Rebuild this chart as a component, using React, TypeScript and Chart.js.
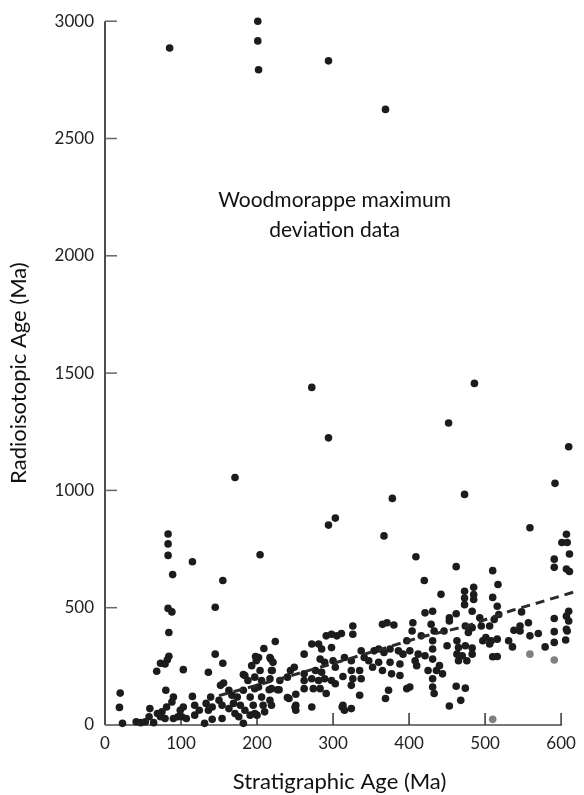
import React, { useEffect, useRef } from "react";
import { Chart, registerables } from "chart.js";

Chart.register(...registerables);

const FONT = "Lato, 'Noto Sans', sans-serif";

const xTickValues = [0, 100, 200, 300, 400, 500, 600];
const yTickValues = [0, 500, 1000, 1500, 2000, 2500, 3000];
const xTitle = "Stratigraphic Age (Ma)";
const yTitle = "Radioisotopic Age (Ma)";
const annotationLines = ["Woodmorappe maximum", "deviation data"];

// Stratigraphic age (Ma) of each sample (black points)
const stratAge = [
  85, 201, 201, 202, 294, 369,
  272, 294, 171, 83, 83, 83, 89, 115, 155, 204,
  486, 452, 610, 378, 473, 592, 294, 303, 559, 367, 409, 420, 462, 510, 517, 510, 442, 473, 485, 485, 473, 473, 485, 607, 601, 608, 611, 591, 591, 607, 611,
  83, 88, 84, 84, 82, 79, 73, 68, 103, 20, 19, 80, 90, 88, 81, 75, 59, 58, 73, 79, 90, 96, 99, 23, 41, 47, 53, 64, 69, 101,
  115, 136, 145, 155, 145, 152, 182, 193, 199, 209, 224, 218, 220, 216, 229, 244, 242, 250,
  198, 184, 197, 188, 156, 139, 150, 163, 167, 174, 182, 191, 197, 103, 118, 124, 133, 141, 154, 163, 169, 178, 184, 195, 107, 118, 131, 154, 171, 176, 191, 197, 136, 141, 182,
  202, 217, 221, 204, 219, 206, 217, 230, 240, 202, 219, 227, 206, 217, 208, 219, 210, 200, 240, 251, 251, 251, 249, 262, 262, 262, 272, 262, 272, 281, 285, 291, 298, 283, 289, 277, 285, 272, 281, 289, 274, 283, 291, 298,
  326, 326, 305, 311, 365, 371, 380, 397, 298, 300, 303, 315, 324, 337, 341, 347, 354, 360, 367, 375, 386, 392, 352, 360, 365, 375, 377, 388, 388, 313, 324, 335, 326, 337, 303, 324, 335, 373, 369, 397, 313, 315, 324, 312,
  405, 404, 429, 433, 421, 431, 453, 462, 493, 483, 453, 474, 483, 478, 495, 497, 446, 416, 431, 463, 431, 450, 465, 474, 483, 401, 412, 421, 408, 410, 463, 470, 483, 465, 476, 431, 425, 436, 440, 444, 431, 431, 433, 401, 462, 474, 468, 453,
  516, 518, 512, 506, 548, 591, 610, 610, 546, 557, 538, 546, 559, 570, 591, 608, 501, 508, 516, 506, 531, 536, 579, 591, 606, 510, 516, 607, 607,
];

// Radioisotopic age (Ma) of each sample (black points)
const radioAge = [
  2886, 3000, 2916, 2793, 2831, 2624,
  1439, 1224, 1055, 814, 772, 723, 641, 696, 616, 726,
  1456, 1287, 1186, 966, 983, 1030, 852, 882, 841, 806, 717, 616, 675, 658, 599, 544, 557, 570, 587, 556, 541, 513, 535, 813, 778, 778, 729, 707, 672, 665, 654,
  497, 482, 394, 293, 278, 260, 263, 229, 236, 136, 75, 148, 119, 98, 77, 56, 70, 35, 35, 28, 28, 35, 63, 7, 14, 10, 14, 10, 49, 35,
  122, 225, 302, 263, 502, 169, 215, 253, 274, 326, 356, 281, 232, 150, 150, 232, 113, 77,
  292, 211, 204, 190, 179, 119, 105, 148, 127, 119, 148, 119, 155, 77, 84, 63, 92, 77, 84, 70, 92, 84, 63, 84, 28, 42, 7, 28, 49, 35, 42, 49, 63, 24, 7,
  288, 288, 267, 232, 232, 190, 197, 190, 204, 162, 155, 150, 119, 105, 84, 84, 56, 42, 117, 131, 84, 63, 246, 218, 190, 155, 77, 302, 345, 345, 324, 380, 387, 281, 267, 232, 225, 197, 190, 197, 155, 155, 134, 190,
  422, 387, 380, 390, 429, 436, 426, 359, 330, 274, 246, 288, 274, 316, 288, 274, 316, 324, 309, 324, 316, 302, 246, 267, 232, 267, 218, 260, 211, 207, 232, 232, 197, 197, 176, 169, 127, 148, 113, 155, 84, 63, 70, 77,
  436, 401, 429, 401, 478, 485, 457, 474, 457, 485, 443, 422, 415, 394, 422, 359, 401, 380, 359, 359, 324, 338, 330, 338, 328, 316, 302, 295, 274, 253, 302, 295, 302, 274, 274, 281, 232, 232, 253, 218, 197, 162, 134, 162, 165, 157, 105, 81,
  506, 471, 450, 422, 482, 454, 485, 443, 422, 436, 404, 401, 380, 390, 398, 401, 373, 359, 366, 345, 359, 333, 333, 352, 362, 291, 292, 464, 408,
];

// Lighter grey points
const grayStratAge = [559, 591, 510];
const grayRadioAge = [302, 277, 24];

// Dashed trend curve
const trendStratAge = [150, 223, 322, 417, 476, 536, 576, 620];
const trendRadioAge = [125, 190, 283, 376, 422, 489, 527, 570];

const zip = (xs: number[], ys: number[]) => xs.map((x, i) => ({ x, y: ys[i] }));

const axesPlugin = {
  id: "customAxes",
  beforeDatasetsDraw(chart: any) {
    const { ctx, chartArea, scales } = chart;
    const xs = scales.x;
    const ys = scales.y;
    const y0 = ys.getPixelForValue(0);
    ctx.save();
    ctx.strokeStyle = "#111";
    ctx.lineWidth = 1.5;
    ctx.beginPath();
    ctx.moveTo(chartArea.left, ys.getPixelForValue(3000));
    ctx.lineTo(chartArea.left, y0);
    ctx.stroke();
    ctx.strokeStyle = "#666";
    ctx.lineWidth = 1.5;
    yTickValues.forEach((v) => {
      if (v === 0) return;
      const py = ys.getPixelForValue(v);
      ctx.beginPath();
      ctx.moveTo(chartArea.left, py);
      ctx.lineTo(chartArea.left + 12, py);
      ctx.stroke();
    });
    ctx.strokeStyle = "#777";
    ctx.lineWidth = 2;
    ctx.beginPath();
    ctx.moveTo(chartArea.left, y0);
    ctx.lineTo(xs.getPixelForValue(600) + 1, y0);
    ctx.stroke();
    ctx.strokeStyle = "#333";
    ctx.lineWidth = 1.5;
    xTickValues.forEach((v) => {
      if (v === 0) return;
      const px = xs.getPixelForValue(v);
      ctx.beginPath();
      ctx.moveTo(px, y0);
      ctx.lineTo(px, y0 - 12);
      ctx.stroke();
    });
    ctx.restore();
  },
  afterDraw(chart: any) {
    const { ctx, scales } = chart;
    const cx = scales.x.getPixelForValue(302);
    const cy = scales.y.getPixelForValue(2236);
    ctx.save();
    ctx.fillStyle = "#111";
    ctx.font = `21px ${FONT}`;
    ctx.textAlign = "center";
    ctx.textBaseline = "middle";
    annotationLines.forEach((line, i) => ctx.fillText(line, cx, cy + i * 30));
    ctx.restore();
  },
};

export default function App() {
  const ref = useRef<HTMLCanvasElement | null>(null);
  useEffect(() => {
    document.body.style.margin = "0";
    const canvas = ref.current;
    if (!canvas) return;
    const chart = new Chart(canvas, {
      type: "scatter",
      data: {
        datasets: [
          {
            label: "trend",
            data: zip(trendStratAge, trendRadioAge),
            showLine: true,
            borderColor: "#2a2a2a",
            borderWidth: 3,
            borderDash: [9, 6],
            pointRadius: 0,
            fill: false,
            clip: false,
          } as any,
          {
            label: "black",
            data: zip(stratAge, radioAge),
            backgroundColor: "#1c1c1c",
            borderWidth: 0,
            pointRadius: 3.8,
            clip: false,
          } as any,
          {
            label: "gray",
            data: zip(grayStratAge, grayRadioAge),
            backgroundColor: "#808080",
            borderWidth: 0,
            pointRadius: 3.8,
            clip: false,
          } as any,
        ],
      },
      options: {
        responsive: false,
        animation: false,
        layout: { padding: { top: 15, right: 0, left: 0, bottom: 0 } },
        plugins: { legend: { display: false }, tooltip: { enabled: false } },
        scales: {
          x: {
            type: "linear",
            min: 0,
            max: 617,
            afterBuildTicks: (s: any) => {
              s.ticks = xTickValues.map((v) => ({ value: v }));
            },
            afterFit: (s: any) => {
              s.height = 70;
            },
            grid: { display: false, drawTicks: false },
            border: { display: false },
            ticks: {
              padding: 8,
              color: "#222",
              font: { family: FONT, size: 17 },
              maxRotation: 0,
              autoSkip: false,
              callback: (v: any) => String(v),
            },
            title: { display: true, text: xTitle, color: "#111", font: { family: FONT, size: 22 }, padding: { top: 0, bottom: 0 } },
          },
          y: {
            type: "linear",
            min: 0,
            max: 3000,
            afterBuildTicks: (s: any) => {
              s.ticks = yTickValues.map((v) => ({ value: v }));
            },
            afterFit: (s: any) => {
              s.width = 105;
            },
            grid: { display: false, drawTicks: false },
            border: { display: false },
            ticks: {
              padding: 11,
              color: "#222",
              font: { family: FONT, size: 17 },
              autoSkip: false,
              callback: (v: any) => String(v),
            },
            title: { display: true, text: yTitle, color: "#111", font: { family: FONT, size: 22 }, padding: { top: 6, bottom: 0 } },
          },
        },
      },
      plugins: [axesPlugin],
    });
    return () => chart.destroy();
  }, []);
  return <canvas ref={ref} width={584} height={795} style={{ display: "block" }} />;
}
